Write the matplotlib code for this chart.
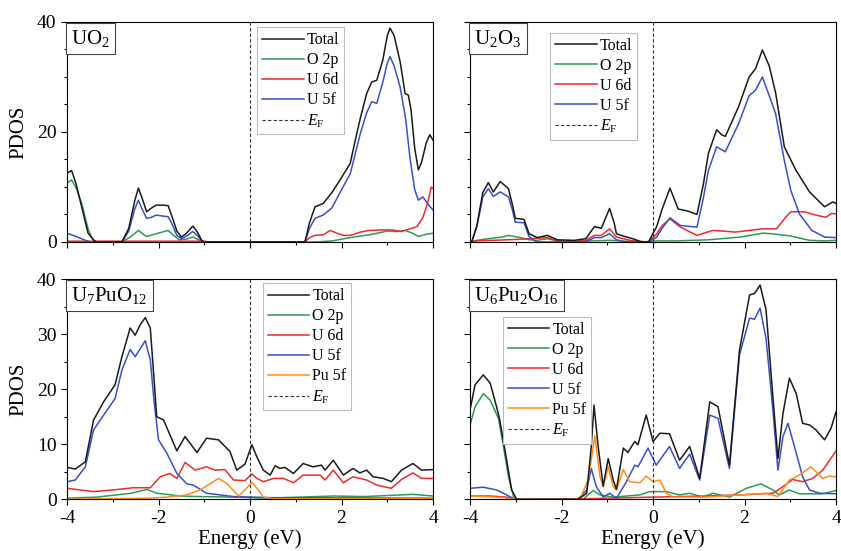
"""PDOS of UO2, U2O3, U7PuO12 and U6Pu2O16 near the Fermi level."""

import matplotlib

matplotlib.use("Agg")
import matplotlib.pyplot as plt
import numpy as np

plt.rcParams["font.family"] = "Liberation Serif"
plt.rcParams["mathtext.fontset"] = "custom"
plt.rcParams["mathtext.rm"] = "Liberation Serif"
plt.rcParams["mathtext.it"] = "Liberation Serif:italic"
plt.rcParams["axes.unicode_minus"] = False

# --- data: [energy (eV), PDOS] ---
uo2_total = [[-4.0, 12.5], [-3.9, 13.0], [-3.8, 10.5], [-3.68, 6.4], [-3.54, 1.6], [-3.4, 0.2],
             [-3.35, 0], [-2.8, 0], [-2.65, 2.5], [-2.52, 7.5], [-2.44, 9.8], [-2.36, 8.0],
             [-2.26, 5.5], [-2.15, 6.2], [-2.05, 6.7], [-1.9, 6.7], [-1.79, 6.6], [-1.7, 4.5],
             [-1.6, 2.0], [-1.5, 0.9], [-1.4, 1.5], [-1.25, 2.9], [-1.15, 1.8], [-1.05, 0.2],
             [-1.0, 0], [1.2, 0], [1.3, 3.5], [1.42, 6.4], [1.6, 7.0], [1.79, 9.0], [1.97, 11.3],
             [2.19, 14.3], [2.3, 18.5], [2.41, 22.5], [2.55, 27.0], [2.66, 29.1], [2.77, 29.4],
             [2.9, 33.0], [3.0, 37.5], [3.06, 38.9], [3.15, 37.5], [3.28, 32.8], [3.39, 27.0],
             [3.46, 26.7], [3.52, 24.0], [3.6, 17.0], [3.68, 13.1], [3.75, 14.5], [3.85, 18.0],
             [3.93, 19.5], [4.0, 18.5]]
uo2_o2p = [[-4.0, 10.7], [-3.9, 11.3], [-3.8, 9.8], [-3.68, 7.0], [-3.54, 2.4], [-3.45, 0.6],
           [-3.35, 0], [-2.8, 0], [-2.6, 1.0], [-2.44, 2.1], [-2.3, 1.2], [-2.26, 1.0],
           [-2.05, 1.5], [-1.79, 2.1], [-1.7, 1.4], [-1.55, 0.4], [-1.4, 0.5], [-1.25, 0.9],
           [-1.1, 0.3], [-1.0, 0], [1.4, 0], [1.8, 0.2], [2.19, 0.8], [2.6, 1.3], [2.9, 1.8],
           [3.0, 2.0], [3.2, 1.9], [3.39, 2.1], [3.55, 1.6], [3.68, 1.0], [3.85, 1.4], [4.0, 1.6]]
uo2_u6d = [[-4.0, 0.15], [-1.0, 0.15], [-0.9, 0], [1.2, 0], [1.3, 0.8], [1.42, 1.2], [1.6, 1.3],
           [1.75, 2.1], [1.9, 1.6], [2.05, 1.2], [2.2, 1.2], [2.41, 1.8], [2.6, 2.1], [2.9, 2.2],
           [3.1, 2.2], [3.3, 1.9], [3.5, 2.4], [3.65, 2.8], [3.78, 4.5], [3.88, 7.0],
           [3.96, 10.0], [4.0, 9.7]]
uo2_u5f = [[-4.0, 1.6], [-3.8, 1.0], [-3.6, 0.3], [-3.5, 0], [-2.8, 0], [-2.65, 2.0],
           [-2.52, 6.0], [-2.44, 7.6], [-2.36, 6.0], [-2.26, 4.3], [-2.15, 4.5], [-2.05, 4.9],
           [-1.9, 4.7], [-1.79, 4.6], [-1.7, 3.2], [-1.6, 1.2], [-1.5, 0.6], [-1.4, 1.0],
           [-1.25, 1.9], [-1.15, 1.2], [-1.05, 0.1], [-1.0, 0], [1.2, 0], [1.3, 2.5], [1.42, 4.3],
           [1.6, 4.9], [1.79, 6.2], [2.0, 9.5], [2.19, 12.4], [2.41, 19.7], [2.55, 23.5],
           [2.66, 25.5], [2.77, 25.2], [2.9, 29.0], [3.0, 32.5], [3.06, 33.7], [3.15, 32.0],
           [3.28, 28.2], [3.4, 22.5], [3.5, 15.0], [3.6, 9.5], [3.68, 7.6], [3.78, 8.2],
           [3.88, 7.0], [4.0, 5.8]]

u2o3_total = [[-4.0, 0], [-3.96, 0.1], [-3.85, 3.0], [-3.72, 9.0], [-3.6, 10.8], [-3.49, 9.1],
              [-3.34, 11.0], [-3.16, 9.7], [-3.08, 7.0], [-3.01, 4.3], [-2.9, 4.2], [-2.82, 4.1],
              [-2.71, 1.5], [-2.53, 0.8], [-2.31, 1.2], [-2.09, 0.4], [-1.72, 0.3], [-1.47, 0.6],
              [-1.35, 2.0], [-1.28, 2.8], [-1.13, 2.5], [-0.95, 6.1], [-0.85, 3.5], [-0.8, 1.5],
              [-0.62, 1.0], [-0.44, 0.6], [-0.25, 0], [-0.1, 0], [0.08, 2.8], [0.2, 6.0],
              [0.37, 9.8], [0.55, 6.0], [0.77, 5.6], [0.96, 5.0], [1.1, 10.5], [1.21, 16.1],
              [1.39, 20.4], [1.5, 19.5], [1.58, 19.2], [1.87, 24.6], [2.1, 30.0], [2.24, 31.5],
              [2.39, 34.9], [2.54, 32.0], [2.68, 27.1], [2.87, 17.3], [3.12, 13.1], [3.42, 9.1],
              [3.75, 6.4], [3.93, 7.3], [4.0, 7.0]]
u2o3_o2p = [[-4.0, 0], [-3.85, 0.3], [-3.6, 0.6], [-3.3, 0.9], [-3.16, 1.2], [-2.9, 0.8],
            [-2.71, 0.4], [-2.53, 0.3], [-2.31, 0.6], [-2.09, 0.2], [-1.72, 0.1], [-0.95, 0.3],
            [-0.5, 0.1], [-0.25, 0], [0.08, 0.2], [0.5, 0.2], [1.21, 0.4], [1.9, 0.9],
            [2.4, 1.6], [2.6, 1.5], [3.0, 1.1], [3.42, 0.3], [3.75, 0.2], [4.0, 0.3]]
u2o3_u6d = [[-4.0, 0], [-3.85, 0.2], [-3.5, 0.3], [-3.2, 0.4], [-2.9, 0.5], [-2.71, 0.6],
            [-2.31, 0.8], [-2.09, 0.2], [-1.7, 0.1], [-1.47, 0.3], [-1.28, 1.2], [-1.13, 1.2],
            [-0.95, 2.4], [-0.8, 0.9], [-0.5, 0.3], [-0.25, 0.1], [-0.1, 0], [0.08, 1.5],
            [0.2, 3.0], [0.37, 4.2], [0.6, 2.7], [0.96, 1.2], [1.3, 2.1], [1.5, 2.0], [1.8, 1.8],
            [2.39, 2.4], [2.7, 2.4], [2.9, 4.5], [3.01, 5.5], [3.3, 5.5], [3.6, 4.8],
            [3.78, 4.5], [3.9, 5.2], [4.0, 5.1]]
u2o3_u5f = [[-4.0, 0], [-3.96, 0.1], [-3.85, 2.8], [-3.72, 8.2], [-3.6, 9.7], [-3.49, 8.3],
            [-3.34, 9.1], [-3.16, 8.2], [-3.08, 6.0], [-3.01, 3.6], [-2.82, 3.5], [-2.71, 1.0],
            [-2.55, 0], [-1.5, 0], [-1.35, 0.5], [-1.28, 0.8], [-1.13, 0.8], [-0.95, 1.5],
            [-0.8, 0.4], [-0.6, 0], [-0.1, 0], [0.08, 0.9], [0.2, 2.5], [0.37, 4.4], [0.6, 3.0],
            [0.96, 2.7], [1.1, 8.0], [1.21, 13.0], [1.39, 17.3], [1.58, 16.4], [1.87, 21.5],
            [2.1, 26.6], [2.24, 27.6], [2.39, 30.0], [2.54, 26.6], [2.68, 23.3], [2.87, 14.8],
            [3.01, 9.4], [3.2, 5.1], [3.47, 2.1], [3.75, 0.9], [4.0, 0.8]]

u7_total = [[-4.0, 5.8], [-3.82, 5.5], [-3.6, 6.8], [-3.42, 14.4], [-3.2, 17.7], [-2.95, 20.8],
            [-2.8, 25.9], [-2.62, 31.1], [-2.51, 29.8], [-2.4, 31.7], [-2.29, 33.0],
            [-2.18, 31.1], [-2.1, 22.0], [-2.04, 15.0], [-1.89, 14.4], [-1.6, 8.8],
            [-1.42, 11.4], [-1.16, 8.5], [-0.95, 11.1], [-0.69, 10.8], [-0.44, 8.7],
            [-0.29, 5.3], [-0.11, 6.4], [0.04, 9.9], [0.15, 7.7], [0.29, 5.3], [0.44, 4.4],
            [0.55, 6.1], [0.65, 5.6], [0.76, 5.8], [0.95, 4.7], [1.16, 6.5], [1.38, 5.9],
            [1.56, 6.2], [1.64, 5.3], [1.82, 7.1], [2.04, 4.4], [2.25, 5.6], [2.4, 4.8],
            [2.55, 5.3], [2.69, 4.1], [2.91, 3.8], [3.09, 3.2], [3.31, 5.3], [3.56, 6.5],
            [3.75, 5.3], [4.0, 5.4]]
u7_o2p = [[-4.0, 0.2], [-3.35, 0.4], [-2.6, 1.1], [-2.25, 1.8], [-2.04, 1.1], [-1.82, 0.9],
          [-1.53, 0.6], [-1.1, 0.5], [-0.36, 0.4], [0.36, 0.2], [1.82, 0.6], [2.5, 0.5],
          [3.56, 0.9], [4.0, 0.6]]
u7_u6d = [[-4.0, 2.0], [-3.42, 1.4], [-3.0, 1.7], [-2.55, 2.1], [-2.18, 2.1], [-1.96, 4.1],
          [-1.75, 4.7], [-1.6, 3.8], [-1.42, 6.7], [-1.2, 5.3], [-0.95, 5.9], [-0.76, 5.3],
          [-0.55, 5.4], [-0.36, 3.5], [-0.11, 3.4], [0.04, 4.6], [0.15, 3.8], [0.29, 3.2],
          [0.51, 3.8], [0.73, 3.8], [0.95, 3.0], [1.16, 4.4], [1.53, 4.4], [1.64, 3.5],
          [1.82, 5.3], [2.04, 3.0], [2.25, 4.1], [2.55, 3.5], [2.76, 2.6], [3.09, 2.0],
          [3.31, 3.6], [3.56, 4.8], [3.75, 3.8], [4.0, 3.8]]
u7_u5f = [[-4.0, 3.2], [-3.82, 3.5], [-3.6, 5.9], [-3.42, 12.6], [-3.2, 15.3], [-2.95, 18.3],
          [-2.8, 23.5], [-2.62, 27.2], [-2.51, 25.9], [-2.29, 28.8], [-2.18, 25.3],
          [-2.1, 18.0], [-2.0, 10.8], [-1.82, 8.4], [-1.6, 4.7], [-1.38, 2.8], [-1.24, 2.6],
          [-0.95, 1.1], [-0.36, 0.5], [0.5, 0.3], [4.0, 0.2]]
u7_pu5f = [[-4.0, 0.0], [-3.27, 0.1], [-2.25, 0.2], [-1.82, 0.4], [-1.38, 0.8], [-1.09, 1.7],
           [-0.8, 3.2], [-0.69, 3.8], [-0.51, 2.9], [-0.25, 0.6], [-0.11, 1.7], [0.04, 3.1],
           [0.18, 1.7], [0.29, 0.4], [0.51, 0.1], [4.0, 0.1]]

u6_total = [[-4.0, 16.2], [-3.89, 20.8], [-3.71, 22.6], [-3.56, 21.1], [-3.42, 16.8],
            [-3.35, 14.4], [-3.2, 7.1], [-3.09, 1.7], [-2.98, 0], [-1.64, 0], [-1.45, 1.1],
            [-1.35, 9.6], [-1.29, 17.1], [-1.2, 9.6], [-1.09, 2.4], [-0.98, 7.4], [-0.87, 3.5],
            [-0.8, 1.8], [-0.65, 9.3], [-0.55, 8.5], [-0.4, 10.5], [-0.33, 9.9], [-0.15, 15.3],
            [0.0, 10.5], [0.15, 12.0], [0.36, 11.9], [0.58, 7.1], [0.8, 9.6], [1.02, 3.8],
            [1.24, 17.7], [1.42, 16.8], [1.67, 6.2], [1.89, 27.1], [2.11, 37.1], [2.22, 37.4],
            [2.34, 38.9], [2.47, 34.4], [2.62, 18.6], [2.73, 7.4], [2.84, 15.6], [2.98, 22.0],
            [3.13, 19.2], [3.27, 13.8], [3.42, 13.5], [3.56, 12.6], [3.75, 10.8], [3.89, 12.9],
            [4.0, 15.9]]
u6_o2p = [[-4.0, 13.5], [-3.89, 16.8], [-3.71, 19.2], [-3.56, 18.0], [-3.38, 14.7],
          [-3.27, 9.6], [-3.16, 4.1], [-3.05, 0.5], [-2.98, 0], [-1.53, 0], [-1.31, 1.6],
          [-1.16, 0.8], [-0.87, 0.4], [-0.29, 0.8], [-0.07, 1.4], [0.29, 1.4], [0.58, 0.8],
          [0.8, 1.1], [1.09, 0.4], [1.31, 1.1], [1.67, 0.4], [2.04, 2.0], [2.36, 2.8],
          [2.62, 1.7], [2.76, 0.8], [2.98, 1.7], [3.2, 1.0], [3.71, 1.0], [4.0, 1.6]]
u6_u6d = [[-4.0, 0.6], [-3.56, 0.6], [-3.2, 0.4], [-3.02, 0], [-1.45, 0.1], [0.0, 0.4],
          [1.16, 0.6], [1.89, 0.8], [2.62, 1.1], [2.84, 2.3], [3.05, 3.6], [3.27, 3.2],
          [3.49, 3.8], [3.71, 5.3], [4.0, 8.8]]
u6_u5f = [[-4.0, 2.0], [-3.71, 2.2], [-3.42, 1.7], [-3.2, 0.8], [-3.02, 0], [-1.64, 0],
          [-1.45, 1.7], [-1.35, 5.6], [-1.24, 2.3], [-1.09, 0.4], [-0.95, 1.1], [-0.8, 0.2],
          [-0.58, 3.2], [-0.4, 6.2], [-0.33, 5.9], [-0.11, 9.3], [0.07, 6.2], [0.36, 9.6],
          [0.58, 5.6], [0.8, 8.2], [1.02, 3.5], [1.24, 15.3], [1.42, 14.7], [1.67, 5.6],
          [1.89, 26.2], [2.11, 32.9], [2.22, 32.7], [2.34, 34.7], [2.47, 29.2], [2.62, 16.2],
          [2.73, 5.3], [2.84, 11.4], [2.95, 13.8], [3.09, 9.6], [3.27, 4.1], [3.42, 1.7],
          [3.64, 1.1], [4.0, 1.0]]
u6_pu5f = [[-4.0, 0.6], [-3.71, 0.5], [-3.27, 0.3], [-3.02, 0], [-1.6, 0], [-1.42, 3.5],
           [-1.27, 11.5], [-1.16, 4.1], [-1.09, 2.3], [-0.98, 5.9], [-0.87, 2.3], [-0.8, 1.7],
           [-0.65, 5.4], [-0.51, 3.2], [-0.29, 3.0], [-0.15, 4.2], [0.0, 3.2], [0.15, 3.5],
           [0.29, 1.1], [0.44, 0.4], [1.16, 0.4], [1.89, 0.8], [2.47, 1.1], [2.73, 0.5],
           [2.98, 3.5], [3.2, 4.4], [3.45, 5.9], [3.71, 3.8], [3.85, 4.2], [4.0, 4.1]]

COLORS = {"Total": "#1a1a1a", "O 2p": "#2e9a55", "U 6d": "#ee2a2a",
          "U 5f": "#3a4fc8", "Pu 5f": "#ff8c1a"}


def plot_panel(ax, title, curves, legend_xy, ylab_step, show_x, show_y):
    """Draw one PDOS panel with its label box and legend."""
    handles = []
    for name, pts in curves:
        pts = np.array(pts)
        (line,) = ax.plot(pts[:, 0], pts[:, 1], color=COLORS[name], lw=1.1, label=name)
        handles.append(line)
    ef = ax.axvline(0, color="#333333", ls="--", lw=0.8, dashes=(3, 2), label=r"$E_\mathrm{F}$")
    handles.append(ef)
    # draw Total on top of the partial curves
    handles[0].set_zorder(3)

    ax.set_xlim(-4, 4)
    ax.set_ylim(0, 40)
    ax.set_xticks([-4, -2, 0, 2, 4])
    ax.set_xticks([-3, -1, 1, 3], minor=True)
    ax.set_yticks(np.arange(0, 41, ylab_step))
    ax.set_yticks(np.arange(0, 41, 5), minor=True)
    ax.tick_params(labelsize=14, length=4, width=0.8, direction="out")
    ax.tick_params(which="minor", length=2.5, width=0.8)
    if not show_x:
        ax.tick_params(labelbottom=False)
    if not show_y:
        ax.tick_params(labelleft=False)
    for sp in ax.spines.values():
        sp.set_linewidth(0.8)

    ax.text(0.012, 0.972, title, transform=ax.transAxes, fontsize=15, va="top", ha="left",
            bbox=dict(boxstyle="square,pad=0.25", fc="white", ec="#444444", lw=0.8))
    leg = ax.legend(handles=handles, loc="upper left", bbox_to_anchor=legend_xy, fontsize=11.5,
                    handlelength=2.6, handletextpad=0.2, labelspacing=0.25, borderpad=0.3,
                    borderaxespad=0, fancybox=False, edgecolor="#bbbbbb", framealpha=1)
    leg.get_frame().set_linewidth(0.8)


fig = plt.figure(figsize=(8.41, 5.51), dpi=100)
ax_tl = fig.add_axes([0.0797, 0.5608, 0.4352, 0.3993])
ax_tr = fig.add_axes([0.5589, 0.5608, 0.4352, 0.3993])
ax_bl = fig.add_axes([0.0797, 0.0938, 0.4352, 0.3998])
ax_br = fig.add_axes([0.5589, 0.0938, 0.4352, 0.3998])

plot_panel(ax_tl, r"UO$_2$",
           [("Total", uo2_total), ("O 2p", uo2_o2p), ("U 6d", uo2_u6d), ("U 5f", uo2_u5f)],
           (0.52, 0.975), 20, False, True)
plot_panel(ax_tr, r"U$_2$O$_3$",
           [("Total", u2o3_total), ("O 2p", u2o3_o2p), ("U 6d", u2o3_u6d), ("U 5f", u2o3_u5f)],
           (0.219, 0.95), 20, False, False)
plot_panel(ax_bl, r"U$_7$PuO$_{12}$",
           [("Total", u7_total), ("O 2p", u7_o2p), ("U 6d", u7_u6d), ("U 5f", u7_u5f),
            ("Pu 5f", u7_pu5f)],
           (0.535, 0.98), 10, True, True)
plot_panel(ax_br, r"U$_6$Pu$_2$O$_{16}$",
           [("Total", u6_total), ("O 2p", u6_o2p), ("U 6d", u6_u6d), ("U 5f", u6_u5f),
            ("Pu 5f", u6_pu5f)],
           (0.09, 0.827), 10, True, False)

ax_tl.set_ylabel("PDOS", fontsize=15, labelpad=6)
ax_bl.set_ylabel("PDOS", fontsize=15, labelpad=6)
ax_bl.set_xlabel("Energy (eV)", fontsize=15, labelpad=2)
ax_br.set_xlabel("Energy (eV)", fontsize=15, labelpad=2)

fig.savefig("out.png", dpi=100)
